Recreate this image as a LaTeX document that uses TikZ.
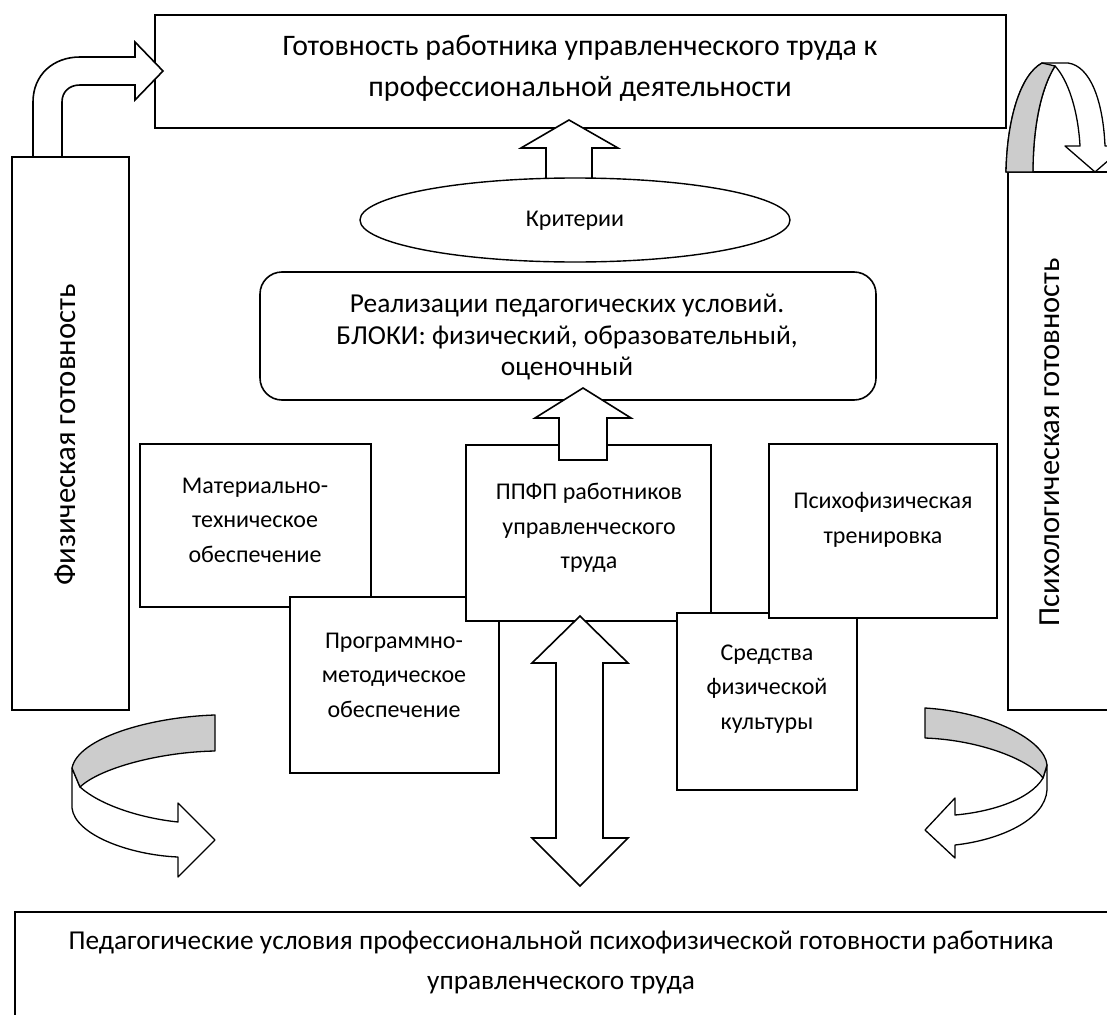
\documentclass[tikz,border=0pt]{standalone}
\usepackage{fontspec}
\setmainfont{Carlito}
\usetikzlibrary{shapes.geometric}
\definecolor{bandgrey}{RGB}{204,204,204}
\begin{document}
\begin{tikzpicture}[x=1pt,y=-1pt,
  box/.style={draw, line width=1.6pt, fill=white, inner sep=0pt, rectangle},
  txt/.style={font=\fontsize{24}{34.5}\selectfont, align=center, inner sep=0pt},
  fat/.style={draw, line width=1.6pt, fill=white, line join=miter},
  band/.style={draw, line width=1.3pt, line join=round},
]
\useasboundingbox (0,0) rectangle (1107,1014);
\clip (0,0) rectangle (1107,1014);

% big frame boxes
\node[box, minimum width=851pt, minimum height=113pt] (top) at (580.5,71.5) {};
\node[txt, font=\fontsize{29.8}{41}\selectfont] (topt) at (580,68) {Готовность работника управленческого труда к\\профессиональной деятельности};

\node[box, minimum width=117pt, minimum height=553pt] (left) at (70.5,433.5) {};
\node[txt, rotate=90, font=\fontsize{30.8}{36}\selectfont] (leftt) at (65,435) {Физическая готовность};

\node[box, minimum width=122pt, minimum height=538pt] (right) at (1069,441) {};
\node[txt, rotate=90, font=\fontsize{30.6}{36}\selectfont] (rightt) at (1050,442) {Психологическая готовность};

\node[box, minimum width=1110pt, minimum height=118pt] (bottom) at (570,971) {};
\node[txt, font=\fontsize{27.3}{40}\selectfont] (bottomt) at (561,962) {Педагогические условия профессиональной психофизической готовности работника\\управленческого труда};

% top arrow and criteria
\draw[fat] (546,182) -- (546,148) -- (521,148) -- (569,120) -- (618,148) -- (592,148) -- (592,182) -- cycle;
\node[draw, ellipse, line width=1.4pt, fill=white, minimum width=430pt, minimum height=84pt, inner sep=0pt] (crit) at (575,220) {};
\node[txt] (critt) at (575,221) {Критерии};

% realisation block
\node[box, rounded corners=22pt, minimum width=616pt, minimum height=128pt] (real) at (568,336) {};
\node[txt, font=\fontsize{27.4}{31.5}\selectfont] (realt) at (567,337) {Реализации педагогических условий.\\БЛОКИ: физический, образовательный,\\оценочный};

% middle boxes
\node[box, minimum width=231pt, minimum height=163pt] (mat) at (255.5,525.5) {};
\node[txt] (matt) at (255,520) {Материально-\\техническое\\обеспечение};

\node[box, minimum width=209pt, minimum height=176pt] (prog) at (394.5,685) {};
\node[txt] (progt) at (394,675) {Программно-\\методическое\\обеспечение};

\node[box, minimum width=245pt, minimum height=176pt] (ppfp) at (588.5,533) {};
\node[txt] (ppfpt) at (589,528) {ППФП работников\\управленческого\\труда};

\node[box, minimum width=180pt, minimum height=177pt] (sred) at (767,701.5) {};
\node[txt] (sredt) at (767,689) {Средства\\физической\\культуры};

\node[box, minimum width=228pt, minimum height=174pt] (psy) at (883,531) {};
\node[txt] (psyt) at (883,520) {Психофизическая\\тренировка};

% arrow from PPFP to realisation
\draw[fat] (559,460) -- (559,418) -- (535,418) -- (583,388) -- (631,418) -- (607,418) -- (607,460) -- cycle;

% double arrow
\draw[fat] (556,663) -- (532,663) -- (580,616) -- (628,663) -- (603,663) -- (603,838) -- (628,838) -- (580,886) -- (532,838) -- (556,838) -- cycle;

% top-left bent arrow
\draw[fat] (33,157) -- (33,102) .. controls (33,75) and (53,57) .. (80,57) -- (135,57) -- (135,42) -- (163,71) -- (135,100) -- (135,85) -- (80,85) .. controls (69,85) and (62,92) .. (62,102) -- (62,157) -- cycle;

% top-right curved arrow
\draw[band, fill=white] (1006,172) .. controls (1007,120) and (1020,75) .. (1042,63) -- (1068,63) .. controls (1090,66) and (1103,100) .. (1105,146) -- (1125,146) -- (1095,172) -- (1065,146) -- (1080,146) .. controls (1078,110) and (1068,80) .. (1055,66) .. controls (1040,90) and (1033,130) .. (1033,172) -- cycle;
\draw[band, fill=bandgrey] (1006,172) .. controls (1007,120) and (1020,75) .. (1042,63) -- (1055,66) .. controls (1040,90) and (1033,130) .. (1033,172) -- cycle;

% bottom-left curved arrow
\draw[band, fill=white] (72,768) -- (72,808) .. controls (75,835) and (130,855) .. (178,857) -- (178,877) -- (215,840) -- (178,803) -- (178,822) .. controls (140,818) and (100,805) .. (80,787) -- cycle;
\draw[band, fill=bandgrey] (215,715) .. controls (150,717) and (78,738) .. (72,768) -- (80,787) .. controls (100,768) and (160,752) .. (215,751) -- cycle;

% bottom-right curved arrow
\draw[band, fill=white] (1047,765) -- (1047,790) .. controls (1045,820) and (1000,840) .. (955,845) -- (955,858) -- (925,830) -- (955,798) -- (955,815) .. controls (990,812) and (1030,800) .. (1043,778) -- cycle;
\draw[band, fill=bandgrey] (925,708) .. controls (990,712) and (1045,740) .. (1047,765) -- (1043,778) .. controls (1030,760) and (980,740) .. (925,738) -- cycle;
\end{tikzpicture}
\end{document}
